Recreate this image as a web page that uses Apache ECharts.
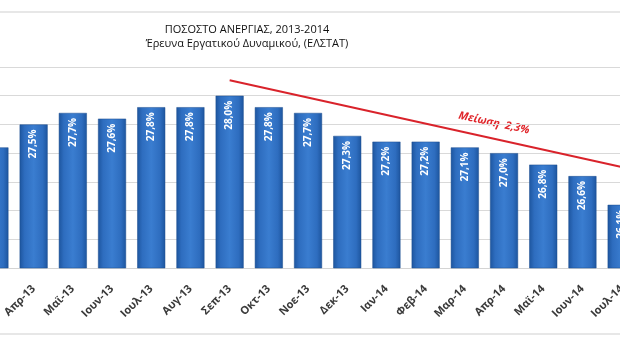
<!DOCTYPE html>
<html>
<head>
<meta charset="utf-8">
<script src="https://cdn.jsdelivr.net/npm/echarts@6/dist/echarts.min.js"></script>
<style>
html,body{margin:0;padding:0;background:#fff;overflow:hidden;width:620px;height:360px;position:relative}
#c{width:720px;height:360px;position:absolute;left:-40px;top:0}
</style>
</head>
<body>
<div id="c"></div>
<script>
var categories = ['Μαρ-13','Απρ-13','Μαϊ-13','Ιουν-13','Ιουλ-13','Αυγ-13','Σεπ-13','Οκτ-13','Νοε-13','Δεκ-13','Ιαν-14','Φεβ-14','Μαρ-14','Απρ-14','Μαϊ-14','Ιουν-14','Ιουλ-14'];
var unemployment = [27.1, 27.5, 27.7, 27.6, 27.8, 27.8, 28.0, 27.8, 27.7, 27.3, 27.2, 27.2, 27.1, 27.0, 26.8, 26.6, 26.1];
var trendStart = ['Σεπ-13', 28.27];
var trendEnd = ['Ιουλ-14', 26.76];
var trendText = 'Μείωση  2,3%';
var titleText = 'ΠΟΣΟΣΤΟ ΑΝΕΡΓΙΑΣ, 2013-2014';
var subtitleText = 'Έρευνα Εργατικού Δυναμικού, (ΕΛΣΤΑΤ)';

var OFF = 40; // container is shifted left by this many pixels
var chart = echarts.init(document.getElementById('c'), null, {renderer: 'canvas'});
var barColor = new echarts.graphic.LinearGradient(0, 0, 1, 0, [
  {offset: 0, color: '#1d559e'},
  {offset: 0.18, color: '#2e6dbf'},
  {offset: 0.5, color: '#3a7dd0'},
  {offset: 0.82, color: '#2e6dbf'},
  {offset: 1, color: '#1d559e'}
]);
chart.setOption({
  animation: false,
  backgroundColor: '#ffffff',
  title: {
    text: titleText,
    subtext: subtitleText,
    left: 242 + OFF,
    textAlign: 'center',
    top: 19,
    itemGap: 3,
    textStyle: {fontFamily: 'Open Sans', fontSize: 11, fontWeight: 'normal', color: '#111'},
    subtextStyle: {fontFamily: 'Open Sans', fontSize: 11, color: '#111'}
  },
  graphic: [
    {type: 'rect', shape: {x: 0, y: 12, width: 720, height: 322}, style: {fill: 'none', stroke: '#cfcfcf', lineWidth: 1}, z: -1},
    {type: 'text', x: 494 + OFF, y: 123, rotation: -0.21, style: {text: trendText, fill: '#e0262b', font: 'italic bold 11px "Open Sans"', textAlign: 'center', textVerticalAlign: 'middle'}}
  ],
  grid: {left: 9.75, right: 38.75, top: 67, bottom: 92, containLabel: false},
  xAxis: {
    type: 'category',
    data: categories,
    axisLine: {show: true, lineStyle: {color: '#d4d4d4'}},
    axisTick: {show: false},
    axisLabel: {rotate: 45, margin: 19, interval: 0, fontFamily: 'Open Sans', fontSize: 11, fontWeight: 'bold', color: '#3a3a3a'}
  },
  yAxis: {
    type: 'value',
    min: 25, max: 28.5, interval: 0.5,
    axisLabel: {show: false},
    axisLine: {show: false},
    axisTick: {show: false},
    splitLine: {lineStyle: {color: '#d9d9d9'}}
  },
  series: [{
    type: 'bar',
    data: unemployment,
    barWidth: 28,
    itemStyle: {color: barColor, borderColor: '#1a4c8e', borderWidth: 0.5},
    label: {
      show: true,
      position: 'insideTop',
      rotate: 90,
      align: 'right',
      verticalAlign: 'middle',
      distance: 5,
      color: '#ffffff',
      fontFamily: 'Open Sans',
      fontSize: 10,
      fontWeight: 'bold',
      formatter: function (p) { return p.value.toFixed(1).replace('.', ',') + '%'; }
    },
    markLine: {
      silent: true,
      symbol: ['none', 'none'],
      label: {show: false},
      lineStyle: {color: '#d9232b', width: 2, type: 'solid'},
      data: [[{coord: trendStart}, {coord: trendEnd}]]
    }
  }]
});
</script>
</body>
</html>
